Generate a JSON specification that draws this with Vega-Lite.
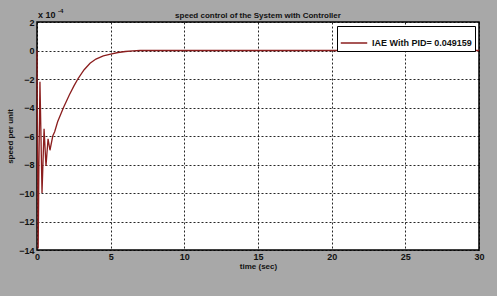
{
  "$schema": "https://vega.github.io/schema/vega-lite/v6.json",
  "width": 442,
  "height": 228,
  "autosize": {"type": "none"},
  "padding": {"left": 37, "top": 22, "right": 18, "bottom": 46},
  "background": "#a8a8a8",
  "config": {
    "view": {"fill": "white", "stroke": "black", "strokeWidth": 1.5},
    "font": "Liberation Sans",
    "axis": {"labelOverlap": false}
  },
  "title": {
    "text": "speed control of the System with Controller",
    "fontSize": 8,
    "fontWeight": "bold",
    "color": "#111",
    "offset": -12,
    "anchor": "middle",
    "frame": "group"
  },
  "datasets": {
    "curve": [
      {"t": 0, "v": 0, "s": "IAE With PID= 0.049159"},
      {"t": 0.03, "v": -6, "s": "IAE With PID= 0.049159"},
      {"t": 0.08, "v": -13.9, "s": "IAE With PID= 0.049159"},
      {"t": 0.13, "v": -8, "s": "IAE With PID= 0.049159"},
      {"t": 0.2, "v": -2.2, "s": "IAE With PID= 0.049159"},
      {"t": 0.27, "v": -6, "s": "IAE With PID= 0.049159"},
      {"t": 0.34, "v": -10, "s": "IAE With PID= 0.049159"},
      {"t": 0.48, "v": -5.5, "s": "IAE With PID= 0.049159"},
      {"t": 0.61, "v": -8.1, "s": "IAE With PID= 0.049159"},
      {"t": 0.75, "v": -6.2, "s": "IAE With PID= 0.049159"},
      {"t": 0.88, "v": -7.0, "s": "IAE With PID= 0.049159"},
      {"t": 1.07, "v": -6.0, "s": "IAE With PID= 0.049159"},
      {"t": 1.2, "v": -5.7, "s": "IAE With PID= 0.049159"},
      {"t": 1.4, "v": -5.0, "s": "IAE With PID= 0.049159"},
      {"t": 1.8, "v": -4.0, "s": "IAE With PID= 0.049159"},
      {"t": 2.2, "v": -3.1, "s": "IAE With PID= 0.049159"},
      {"t": 2.5, "v": -2.5, "s": "IAE With PID= 0.049159"},
      {"t": 2.8, "v": -1.95, "s": "IAE With PID= 0.049159"},
      {"t": 3.2, "v": -1.35, "s": "IAE With PID= 0.049159"},
      {"t": 3.6, "v": -0.9, "s": "IAE With PID= 0.049159"},
      {"t": 4.0, "v": -0.6, "s": "IAE With PID= 0.049159"},
      {"t": 4.5, "v": -0.38, "s": "IAE With PID= 0.049159"},
      {"t": 5.0, "v": -0.25, "s": "IAE With PID= 0.049159"},
      {"t": 5.5, "v": -0.14, "s": "IAE With PID= 0.049159"},
      {"t": 6.0, "v": -0.07, "s": "IAE With PID= 0.049159"},
      {"t": 6.5, "v": -0.03, "s": "IAE With PID= 0.049159"},
      {"t": 7.0, "v": 0, "s": "IAE With PID= 0.049159"},
      {"t": 30, "v": 0, "s": "IAE With PID= 0.049159"}
    ],
    "notes": [
      {"t": 0, "v": 2, "label": "x 10"},
      {"t": 0, "v": 2, "label": "-4"}
    ]
  },
  "layer": [
    {
      "data": {"name": "curve"},
      "mark": {"type": "line", "strokeWidth": 1.3},
      "encoding": {
        "x": {
          "field": "t", "type": "quantitative",
          "scale": {"domain": [0, 30], "nice": false},
          "axis": {
            "tickCount": 6,
            "title": "time (sec)",
            "titleFontSize": 8, "titleFontWeight": "bold", "titleColor": "#111", "titlePadding": 1,
            "labelFontSize": 9, "labelFontWeight": "bold", "labelColor": "#111",
            "labelPadding": 2, "labelOverlap": false, "labelFlush": false,
            "domain": false, "ticks": false,
            "grid": true, "gridColor": "black", "gridDash": [2, 2], "gridOpacity": 0.85, "gridWidth": 1
          }
        },
        "y": {
          "field": "v", "type": "quantitative",
          "scale": {"domain": [-14, 2], "nice": false},
          "axis": {
            "tickCount": 8,
            "title": "speed per unit",
            "titleFontSize": 8, "titleFontWeight": "bold", "titleColor": "#111", "titlePadding": 4,
            "labelFontSize": 9, "labelFontWeight": "bold", "labelColor": "#111",
            "labelPadding": 3, "labelOverlap": false, "labelFlush": false,
            "domain": false, "ticks": false,
            "grid": true, "gridColor": "black", "gridDash": [2, 2], "gridOpacity": 0.85, "gridWidth": 1
          }
        },
        "color": {
          "field": "s", "type": "nominal",
          "scale": {"range": ["#8b1e1e"]},
          "legend": {
            "title": null,
            "orient": "top-right",
            "offset": 4,
            "symbolType": "stroke",
            "symbolSize": 700,
            "symbolStrokeWidth": 1.5,
            "labelFontSize": 9,
            "labelFontWeight": "bold",
            "labelColor": "#111",
            "fillColor": "white",
            "strokeColor": "black",
            "padding": 3
          }
        }
      }
    },
    {
      "data": {"name": "notes"},
      "transform": [{"filter": "datum.label == 'x 10'"}],
      "mark": {"type": "text", "align": "left", "baseline": "bottom", "dx": 1, "dy": -2, "fontSize": 9, "fontWeight": "bold", "color": "#111"},
      "encoding": {
        "x": {"field": "t", "type": "quantitative"},
        "y": {"field": "v", "type": "quantitative"},
        "text": {"field": "label"}
      }
    },
    {
      "data": {"name": "notes"},
      "transform": [{"filter": "datum.label == '-4'"}],
      "mark": {"type": "text", "align": "left", "baseline": "bottom", "dx": 21, "dy": -8, "fontSize": 6, "fontWeight": "bold", "color": "#111"},
      "encoding": {
        "x": {"field": "t", "type": "quantitative"},
        "y": {"field": "v", "type": "quantitative"},
        "text": {"field": "label"}
      }
    }
  ]
}
